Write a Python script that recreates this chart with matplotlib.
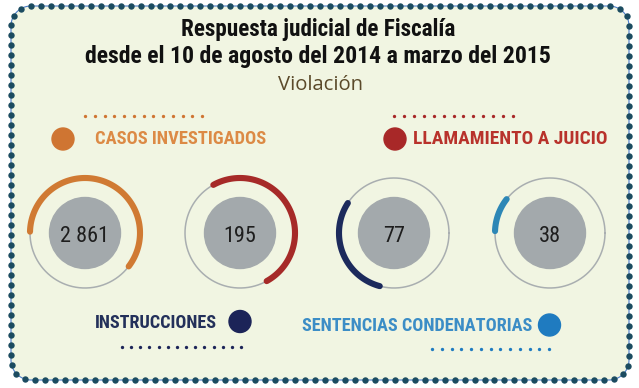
import numpy as np
import matplotlib.pyplot as plt
from matplotlib import font_manager as fm

# datos
valores = ["2 861", "195", "77", "38"]
fraccion_arco = [0.60, 0.50, 0.30, 0.10]
etiquetas = ["CASOS INVESTIGADOS", "LLAMAMIENTO A JUICIO", "INSTRUCCIONES", "SENTENCIAS CONDENATORIAS"]
titulo = ["Respuesta judicial de Fiscalía", "desde el 10 de agosto del 2014 a marzo del 2015"]
subtitulo = "Violación"

col_arco = ["#d07a33", "#a62a28", "#1c2a5c", "#2d87b6"]
col_punto = ["#cf7532", "#a82828", "#1c2458", "#1f7bc0"]
col_texto = ["#dc8a45", "#b8322b", "#23305a", "#3b8dc6"]


def primera(familias):
    for f in familias:
        try:
            fm.findfont(fm.FontProperties(family=f), fallback_to_default=False)
            return f
        except ValueError:
            pass
    return "DejaVu Sans"


estrecha = [primera(["Roboto Condensed", "Liberation Sans Narrow", "Lato", "Roboto"]), "DejaVu Sans"]
suave = [primera(["Open Sans", "Lato"]), "DejaVu Sans"]

fig = plt.figure(figsize=(6.39, 3.88), dpi=100)
ax = fig.add_axes([0, 0, 1, 1])
ax.set_xlim(0, 639)
ax.set_ylim(388, 0)
ax.axis("off")
renderer = fig.canvas.get_renderer()


def texto_ajustado(x, y, s, ancho, ha="left", **kw):
    t = ax.text(x, y, s, ha=ha, va="baseline", **kw)
    w = t.get_window_extent(renderer).width
    t.set_fontsize(t.get_fontsize() * ancho / w)
    return t


# marco redondeado con puntos
x0, x1, y0, y1, rad = 11, 629, 6, 380, 20
tt = np.linspace(0, np.pi / 2, 30)
px, py = [], []
for cx, cy, a0 in [(x1 - rad, y0 + rad, 0), (x0 + rad, y0 + rad, np.pi / 2),
                   (x0 + rad, y1 - rad, np.pi), (x1 - rad, y1 - rad, 1.5 * np.pi)]:
    px += list(cx + rad * np.cos(a0 + tt))
    py += list(cy - rad * np.sin(a0 + tt))
px.append(px[0])
py.append(py[0])
px, py = np.array(px), np.array(py)
fondo = plt.Polygon(np.column_stack([px, py]), closed=True, facecolor="#f1f5e2",
                    edgecolor="#4a7cc9", lw=0.8, zorder=0)
ax.add_patch(fondo)
seg = np.hypot(np.diff(px), np.diff(py))
dist = np.concatenate([[0], np.cumsum(seg)])
pasos = np.arange(0, dist[-1], dist[-1] / round(dist[-1] / 10))
ax.plot(np.interp(pasos, dist, px), np.interp(pasos, dist, py), "o",
        color="#1b4b60", ms=4.6, mec="none", zorder=1)

# titulo
texto_ajustado(318, 36, titulo[0], 275, ha="center", fontsize=17,
               fontweight="bold", family=estrecha, color="#111111")
texto_ajustado(318, 63, titulo[1], 468, ha="center", fontsize=17,
               fontweight="bold", family=estrecha, color="#111111")
texto_ajustado(320, 90, subtitulo, 85, ha="center", fontsize=15,
               family=suave, color="#5b4a2a")

# anillos
centros_x = [85, 240, 394, 550]
cy = 233
inicio = [178.6, 119, 147, 142]
sentido = [-1, -1, 1, 1]
for i in range(4):
    cx = centros_x[i]
    a = np.linspace(0, 2 * np.pi, 200)
    ax.plot(cx + 55 * np.cos(a), cy - 55 * np.sin(a), color="#a9aeb0", lw=1.1, zorder=2)
    a = np.radians(inicio[i] + sentido[i] * np.linspace(0, 360 * fraccion_arco[i], 120))
    ax.plot(cx + 55 * np.cos(a), cy - 55 * np.sin(a), color=col_arco[i], lw=4.4,
            solid_capstyle="round", zorder=3)
    ax.add_patch(plt.Circle((cx, cy), 35.5, color="#a3a9ac", zorder=3))
    ax.text(cx, 241.5, valores[i], ha="center", va="baseline", fontsize=16,
            family=estrecha, color="#1e1e1e", zorder=4)

# leyendas
pos_texto = [(95, 144, 171), (413, 144, 194), (95, 328, 122), (302, 331, 231)]
pos_punto = [(63, 139), (395, 139), (240, 321.5), (549.5, 325)]
pos_linea = [(85, 202, 116, 13), (394, 513, 116, 13), (122, 241, 347, 14), (432, 549, 349, 13)]
for i in range(4):
    x, y, w = pos_texto[i]
    texto_ajustado(x, y, etiquetas[i], w, fontsize=13, fontweight="bold",
                   family=estrecha, color=col_texto[i])
    ax.add_patch(plt.Circle(pos_punto[i], 11, color=col_punto[i], zorder=3))
    lx0, lx1, ly, n = pos_linea[i]
    ax.plot(np.linspace(lx0, lx1, n), [ly] * n, "o", color=col_punto[i], ms=2.4, mec="none")

fig.savefig("out.png", dpi=100)
